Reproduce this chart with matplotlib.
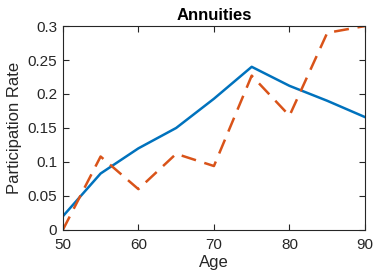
import matplotlib
matplotlib.use("Agg")
import matplotlib.pyplot as plt

# data
age = [50, 55, 60, 65, 70, 75, 80, 85, 90]
rate_model = [0.02, 0.083, 0.12, 0.15, 0.193, 0.24, 0.212, 0.19, 0.166]
rate_data = [0.0, 0.108, 0.06, 0.112, 0.094, 0.227, 0.168, 0.29, 0.30]
yticks = [0, 0.05, 0.1, 0.15, 0.2, 0.25, 0.3]
ytick_labels = ["0", "0.05", "0.1", "0.15", "0.2", "0.25", "0.3"]

plt.rcParams["font.family"] = ["Liberation Sans", "DejaVu Sans"]

fig = plt.figure(figsize=(3.74, 2.77), dpi=100)
ax = fig.add_axes([0.168, 0.170, 0.808, 0.736])

ax.plot(age, rate_model, color="#0072BD", linewidth=1.8)
ax.plot(age, rate_data, color="#D95319", linewidth=1.8, linestyle=(0, (6, 3.5)))

ax.set_xlim(50, 90)
ax.set_ylim(0, 0.3)
ax.set_xticks([50, 60, 70, 80, 90])
ax.set_yticks(yticks)
ax.set_yticklabels(ytick_labels)
ax.tick_params(direction="in", top=True, right=True, labelsize=11, colors="#262626", length=4)
ax.tick_params(axis="x", pad=6)
ax.tick_params(axis="y", pad=4)
for s in ax.spines.values():
    s.set_color("#262626")
    s.set_linewidth(0.8)

ax.set_xlabel("Age", fontsize=12, color="#262626", labelpad=2)
ax.set_ylabel("Participation Rate", fontsize=12, color="#262626")
ax.set_title("Annuities", fontsize=12, fontweight="bold", pad=4)

fig.savefig("out.png", dpi=100)
